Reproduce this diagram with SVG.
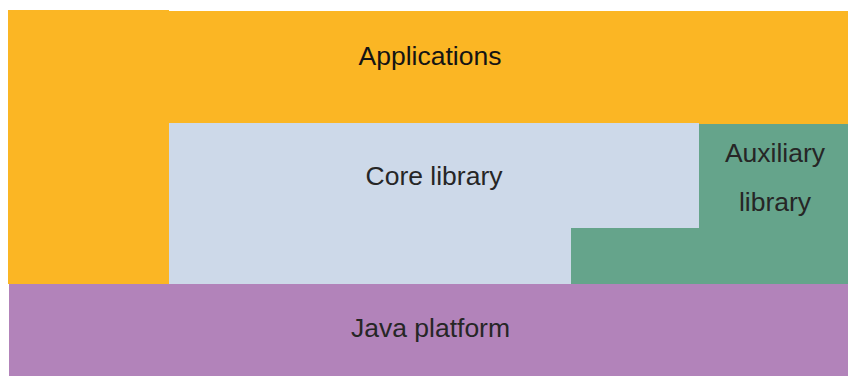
<svg xmlns="http://www.w3.org/2000/svg" width="848" height="376" viewBox="0 0 848 376">
  <style>
    .lbl { font-family: "Liberation Sans", Arial, sans-serif; font-size: 26.5px; text-anchor: middle; fill: #262626; }
    .apps { fill: #fbb624; }
    .core { fill: #cdd9e9; }
    .aux { fill: #65a48b; }
    .java { fill: #b283ba; }
  </style>
  <rect width="848" height="376" fill="#ffffff"/>
  <g id="applications">
    <polygon class="apps" points="8,10 169,10 169,11 848,11 848,124 169,124 169,284 8,284"/>
    <text class="lbl" x="430" y="65" style="fill:#141414">Applications</text>
  </g>
  <g id="core-library">
    <polygon class="core" points="169,123 699,123 699,228 571,228 571,284 169,284"/>
    <text class="lbl" x="434" y="185">Core library</text>
  </g>
  <g id="auxiliary-library">
    <polygon class="aux" points="699,124 848,124 848,284 571,284 571,228 699,228"/>
    <text class="lbl" x="775" y="162">Auxiliary</text>
    <text class="lbl" x="775" y="211">library</text>
  </g>
  <g id="java-platform">
    <rect class="java" x="9" y="284" width="839" height="92"/>
    <text class="lbl" x="430.5" y="337">Java platform</text>
  </g>
  <g id="connectors"/>
</svg>
